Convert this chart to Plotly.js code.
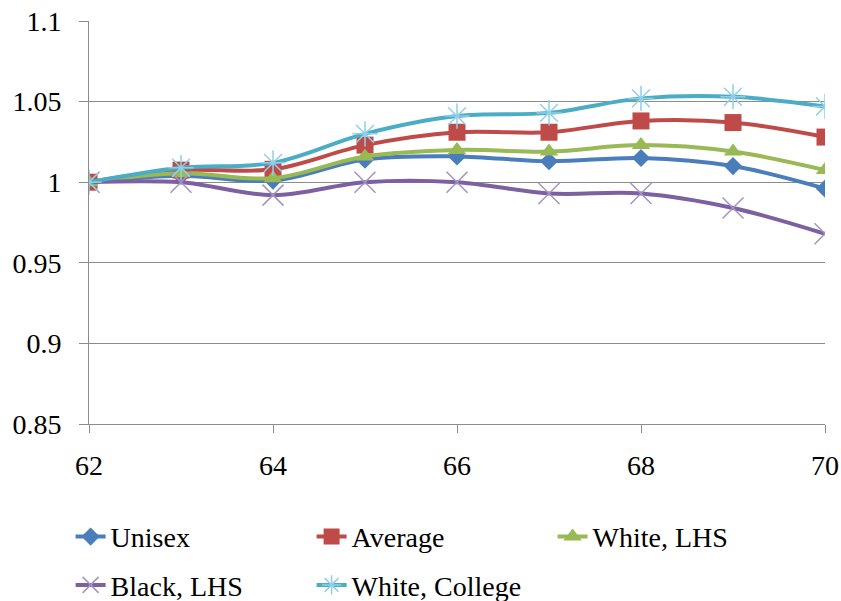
<!DOCTYPE html>
<html>
<head>
<meta charset="utf-8">
<script src="https://cdn.plot.ly/plotly-3.0.1.min.js"></script>
<style>html,body{margin:0;padding:0;background:#fff;}#chart{width:841px;height:601px;}</style>
</head>
<body>
<div id="chart"></div>
<script>
var ages = [62, 63, 64, 65, 66, 67, 68, 69, 70];
var unisex = [1.000, 1.004, 1.001, 1.014, 1.016, 1.013, 1.015, 1.010, 0.996];
var average = [1.000, 1.0075, 1.008, 1.023, 1.031, 1.031, 1.038, 1.037, 1.028];
var whiteLHS = [1.000, 1.0055, 1.0025, 1.016, 1.020, 1.019, 1.023, 1.019, 1.0075];
var blackLHS = [1.000, 1.000, 0.992, 1.000, 1.000, 0.993, 0.993, 0.984, 0.968];
var whiteCollege = [1.000, 1.009, 1.012, 1.030, 1.041, 1.043, 1.052, 1.053, 1.047];
var names = ["Unisex", "Average", "White, LHS", "Black, LHS", "White, College"];
var yTicks = [0.85, 0.9, 0.95, 1, 1.05, 1.1];
var yTickText = ["0.85", "0.9", "0.95", "1", "1.05", "1.1"];
var xTicks = [62, 64, 66, 68, 70];

var colors = ["#4A7EBB", "#BE4B48", "#98B954", "#7D60A0", "#4BACC6"];
var markerColors = ["#4A7EBB", "#BE4B48", "#98B954", "#A393C4", "#8FD0E8"];
var symbols = ["diamond", "square", "triangle-up", "x-thin-open", "asterisk-open"];
var sizes = [14, 17, 16, 21, 21];
var series = [unisex, average, whiteLHS, blackLHS, whiteCollege];
var legends = ["legend", "legend", "legend", "legend2", "legend2"];

var traces = series.map(function (s, i) {
  var open = symbols[i].indexOf("open") >= 0;
  return {
    x: ages, y: s, name: names[i], type: "scatter", mode: "lines+markers",
    legend: legends[i],
    line: {color: colors[i], width: 4, shape: "spline", smoothing: 1},
    marker: {symbol: symbols[i], size: sizes[i], color: markerColors[i],
             line: {color: markerColors[i], width: open ? 1.5 : 0}}
  };
});

var FAMILY = "Liberation Serif";
function mkFont() { return {family: FAMILY, size: 28, color: "#000000"}; }
function legendStyle(xv, yv) {
  return {x: xv, y: yv, orientation: "h", xanchor: "left", yanchor: "middle",
    font: mkFont(), entrywidth: 196, entrywidthmode: "pixels", bgcolor: "rgba(0,0,0,0)",
    traceorder: "normal"};
}

var layout = {
  width: 841, height: 601,
  margin: {l: 89, r: 16, t: 21, b: 177, autoexpand: false},
  paper_bgcolor: "#fff", plot_bgcolor: "#fff",
  font: mkFont(),
  showlegend: true,
  xaxis: {range: [62, 70], tickvals: xTicks, ticktext: xTicks.map(String),
    showgrid: false, zeroline: false, showline: true, linecolor: "#8c8c8c", linewidth: 1,
    ticks: "outside", ticklen: 8, tickcolor: "#8c8c8c", tickfont: mkFont(), ticklabelstandoff: 8},
  yaxis: {range: [0.85, 1.1], tickvals: yTicks, ticktext: yTickText,
    showgrid: true, gridcolor: "#8c8c8c", gridwidth: 1, zeroline: false,
    showline: true, linecolor: "#8c8c8c", linewidth: 1,
    ticks: "outside", ticklen: 9, tickcolor: "#8c8c8c", tickfont: mkFont(), ticklabelstandoff: 12},
  legend: legendStyle(-0.025, -0.28),
  legend2: legendStyle(-0.025, -0.40)
};

function forceSerif() {
  var texts = document.querySelectorAll("#chart text");
  for (var i = 0; i < texts.length; i++) {
    texts[i].style.setProperty("font-family", "'Liberation Serif', 'Times New Roman', serif", "important");
  }
}

var gd = document.getElementById("chart");
Plotly.newPlot(gd, traces, layout, {displayModeBar: false, staticPlot: true}).then(function () {
  forceSerif();
  gd.on("plotly_afterplot", forceSerif);
});
</script>
</body>
</html>
